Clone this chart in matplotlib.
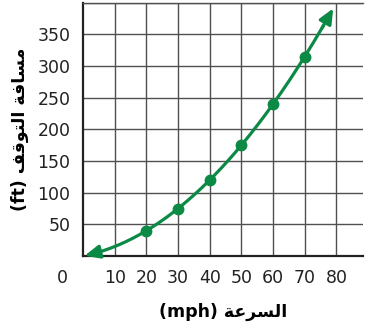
import numpy as np
import matplotlib.pyplot as plt

# data
speed = [20, 30, 40, 50, 60, 70]
stop_dist = [40, 75, 120, 175, 240, 315]
curve_start = 0.5   # arrow tip at the low end (mph)
curve_end = 79      # arrow tip at the high end (mph)
x_ticks = [10, 20, 30, 40, 50, 60, 70, 80]
y_ticks = [50, 100, 150, 200, 250, 300, 350]

# Arabic labels in visual order (presentation forms, since matplotlib does no shaping)
x_label = "(mph) " + "\uFE94\uFECB\uFEAE\uFEB4\uFEDF\uFE8D"
y_label = "(ft) " + "\uFED2\uFED7\uFEEE\uFE98\uFEDF\uFE8D" + " " + "\uFE94\uFED3\uFE8E\uFEB4\uFEE3"

green = '#0b8a45'
grid_col = '#505050'
txt_col = '#222222'

fig = plt.figure(figsize=(3.66, 3.27), dpi=100)
ax = fig.add_axes([0.2268, 0.217, 0.991 - 0.2268, 0.9917 - 0.217])

ax.set_xlim(0, 88.3)
ax.set_ylim(0, 400)
ax.set_xticks(x_ticks)
ax.set_yticks(y_ticks)
for xv in range(10, 90, 10):
    ax.axvline(xv, color=grid_col, lw=1, zorder=1)
for yv in range(50, 401, 50):
    ax.axhline(yv, color=grid_col, lw=1, zorder=1)

ax.spines['right'].set_visible(False)
ax.spines['top'].set_color(grid_col)
ax.spines['top'].set_linewidth(1)
for s in ['left', 'bottom']:
    ax.spines[s].set_linewidth(1.6)
    ax.spines[s].set_color(txt_col)

ax.tick_params(length=0, labelsize=12.5, colors=txt_col, pad=9)
# the origin label sits apart, left of the axis
ax.annotate('0', xy=(-0.075, 0), xycoords='axes fraction', xytext=(0, -9),
            textcoords='offset points', fontsize=12.5, color=txt_col,
            ha='center', va='top', annotation_clip=False)

# smooth curve through the points
coef = np.polyfit(speed, stop_dist, 2)
xs = np.linspace(curve_start + 4, curve_end - 3, 200)
ax.plot(xs, np.polyval(coef, xs), color=green, lw=2.3, zorder=3, solid_capstyle='butt')
ax.plot(speed, stop_dist, 'o', color=green, ms=7.5, zorder=4)

arrow = dict(arrowstyle='-|>,head_length=0.9,head_width=0.4', color=green, lw=2.3,
             shrinkA=0, shrinkB=0)
ax.annotate('', xy=(curve_end, np.polyval(coef, curve_end)),
            xytext=(curve_end - 3.5, np.polyval(coef, curve_end - 3.5)),
            arrowprops=arrow, zorder=5, annotation_clip=False)
ax.annotate('', xy=(curve_start, max(np.polyval(coef, curve_start), 0)),
            xytext=(curve_start + 4.5, np.polyval(coef, curve_start + 4.5)),
            arrowprops=arrow, zorder=5, annotation_clip=False)

ax.set_xlabel(x_label, fontsize=12.5, fontweight='bold', family='DejaVu Sans', labelpad=12)
ax.set_ylabel(y_label, fontsize=12.5, fontweight='bold', family='DejaVu Sans', labelpad=6)

fig.savefig('out.png', dpi=100)
